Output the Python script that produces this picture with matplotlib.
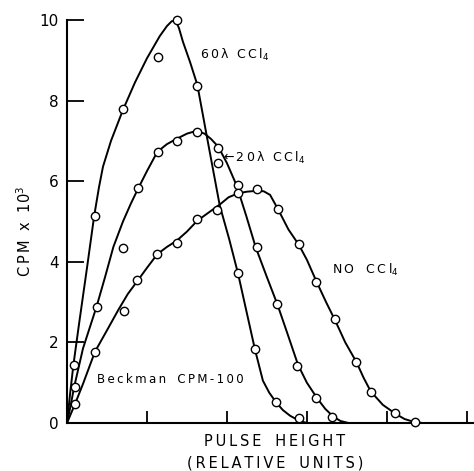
import numpy as np
import matplotlib
matplotlib.use('Agg')
import matplotlib.pyplot as plt

# measured points (pulse height in relative units, CPM x 10^3)
x60 = [0.09, 0.35, 0.70, 1.14, 1.375, 1.63, 2.14, 2.35, 2.62, 2.90]
y60 = [1.44, 5.14, 7.79, 9.08, 10.0, 8.37, 3.72, 1.84, 0.52, 0.12]

x20 = [0.10, 0.37, 0.70, 0.89, 1.14, 1.37, 1.63, 1.89, 1.89, 2.14, 2.37, 2.63, 2.88, 3.12, 3.32]
y20 = [0.90, 2.87, 4.34, 5.83, 6.72, 7.00, 7.23, 6.82, 6.45, 5.90, 4.37, 2.95, 1.41, 0.62, 0.15]

xNo = [0.10, 0.35, 0.71, 0.88, 1.13, 1.37, 1.63, 1.88, 2.14, 2.37, 2.64, 2.90, 3.12, 3.35, 3.62, 3.80, 4.10, 4.35]
yNo = [0.47, 1.76, 2.78, 3.55, 4.19, 4.47, 5.06, 5.29, 5.70, 5.80, 5.30, 4.44, 3.50, 2.58, 1.51, 0.77, 0.25, 0.02]

# hand drawn smooth curves
cx60 = [0, 0.04, 0.08, 0.15, 0.25, 0.34, 0.40, 0.45, 0.55, 0.70, 0.85, 1.00, 1.16, 1.25, 1.31,
        1.36, 1.40, 1.45, 1.54, 1.63, 1.75, 1.91, 2.03, 2.14, 2.25, 2.35, 2.45, 2.53, 2.62,
        2.70, 2.79, 2.90, 3.00]
cy60 = [0, 0.75, 1.44, 2.45, 3.85, 5.14, 5.85, 6.36, 7.00, 7.77, 8.45, 9.05, 9.60, 9.85, 9.97,
        9.98, 9.80, 9.46, 8.95, 8.39, 7.10, 5.40, 4.55, 3.70, 2.72, 1.83, 1.05, 0.75, 0.50,
        0.32, 0.18, 0.06, 0]

cx20 = [0, 0.04, 0.09, 0.20, 0.37, 0.48, 0.58, 0.70, 0.80, 0.89, 1.00, 1.13, 1.25, 1.36, 1.50,
        1.62, 1.72, 1.80, 1.89, 2.00, 2.12, 2.24, 2.36, 2.50, 2.63, 2.76, 2.89, 3.00, 3.13,
        3.23, 3.33, 3.42, 3.52]
cy20 = [0, 0.38, 0.90, 1.85, 2.89, 3.65, 4.37, 5.00, 5.45, 5.82, 6.25, 6.73, 6.92, 7.04, 7.18,
        7.25, 7.18, 7.05, 6.86, 6.45, 5.90, 5.15, 4.36, 3.62, 2.95, 2.20, 1.44, 1.00, 0.61,
        0.35, 0.16, 0.05, 0]

cxNo = [0, 0.10, 0.20, 0.35, 0.50, 0.64, 0.76, 0.89, 1.00, 1.13, 1.25, 1.37, 1.50, 1.63, 1.77,
        1.91, 2.02, 2.14, 2.25, 2.37, 2.46, 2.54, 2.64, 2.77, 2.90, 3.00, 3.12, 3.24, 3.35,
        3.48, 3.62, 3.71, 3.80, 3.95, 4.10, 4.22, 4.35, 4.45]
cyNo = [0, 0.47, 0.97, 1.77, 2.30, 2.80, 3.20, 3.55, 3.85, 4.19, 4.37, 4.52, 4.75, 5.02, 5.22,
        5.42, 5.60, 5.70, 5.74, 5.76, 5.75, 5.66, 5.30, 4.80, 4.42, 4.05, 3.51, 3.00, 2.56,
        2.00, 1.51, 1.12, 0.78, 0.45, 0.24, 0.10, 0.02, 0]

ytick_vals = [0, 2, 4, 6, 8, 10]
xtick_vals = [1, 2, 3, 4, 5]


def spaced(s):
    # old lettering guide text is widely spaced, pad with thin spaces
    return '\u2009'.join(s)


def driver():
    fig = plt.figure(figsize=(4.74, 4.71), dpi=100)
    ax = fig.add_axes([67/474, 48/471, 407/474, 403/471])

    for cx, cy in [(cx60, cy60), (cx20, cy20), (cxNo, cyNo)]:
        ax.plot(cx, cy, 'k-', linewidth=1.4, solid_joinstyle='round')
    for px, py in [(x60, y60), (x20, y20), (xNo, yNo)]:
        ax.plot(px, py, 'o', markersize=6, markerfacecolor='white',
                markeredgecolor='k', markeredgewidth=1.0, zorder=3, clip_on=False)

    ax.set_xlim(0, 5.09)
    ax.set_ylim(0, 10)
    ax.spines['top'].set_visible(False)
    ax.spines['right'].set_visible(False)
    ax.spines['left'].set_linewidth(1.5)
    ax.spines['bottom'].set_linewidth(1.5)

    ax.set_yticks(ytick_vals)
    ax.set_yticklabels([str(v) for v in ytick_vals], fontsize=11)
    ax.set_xticks(xtick_vals)
    ax.set_xticklabels([])
    ax.tick_params(axis='y', direction='in', length=12, width=1.3, pad=6)
    ax.tick_params(axis='x', direction='in', length=9, width=1.3)

    ax.text(1.66, 9.13, spaced('60λ') + '  ' + spaced('CCl') + '$_4$', fontsize=9, va='center', ha='left')
    ax.text(1.95, 6.57, spaced('←20λ') + '  ' + spaced('CCl') + '$_4$', fontsize=9, va='center', ha='left')
    ax.text(3.32, 3.80, spaced('NO') + '   ' + spaced('CCl') + '$_4$', fontsize=9, va='center', ha='left')
    ax.text(0.37, 1.07, spaced('Beckman') + '   ' + spaced('CPM-100'), fontsize=8.5, va='center', ha='left')

    fig.text(275/474, 1 - 442/471, spaced('PULSE') + '   ' + spaced('HEIGHT'), fontsize=10.5,
             ha='center', va='center')
    fig.text(275/474, 1 - 463/471, spaced('(RELATIVE') + '   ' + spaced('UNITS)'), fontsize=10.5,
             ha='center', va='center')
    fig.text(25/474, 1 - 231/471, spaced('CPM') + '  x  10$^3$', fontsize=10.5,
             rotation=90, ha='center', va='center')

    fig.savefig('out.png', dpi=100)


driver()
